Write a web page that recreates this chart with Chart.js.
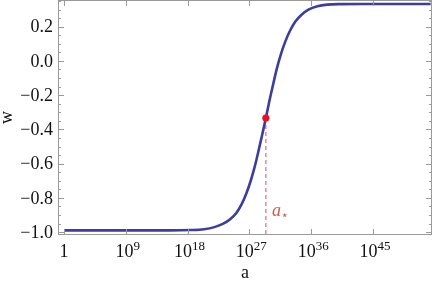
<!DOCTYPE html>
<html>
<head>
<meta charset="utf-8">
<script src="https://cdn.jsdelivr.net/npm/chart.js@4"></script>
<style>
  html, body { margin: 0; padding: 0; background: #fff; }
  #wrap { width: 437px; height: 282px; }
</style>
</head>
<body>
<div id="wrap"><canvas id="wChart" width="437" height="282"></canvas></div>
<script>
// curve: log10(a) and w
const logA = [0, 5, 10, 15.4, 18.4, 20.4, 21.9, 23.2, 24.2, 25.1, 25.9, 26.6, 27.2, 27.8, 28.4, 28.9,
  29.4, 29.9, 30.4, 31.0, 31.6, 32.2, 32.9, 33.7, 34.6, 35.6, 36.9, 38.4, 40.4, 43.4, 48, 53.4];
const wVals = [-0.99, -0.99, -0.99, -0.99, -0.988, -0.983, -0.971, -0.951, -0.925, -0.888, -0.835, -0.77, -0.70, -0.615, -0.514, -0.425,
  -0.334, -0.237, -0.148, -0.045, 0.04, 0.11, 0.175, 0.23, 0.27, 0.30, 0.32, 0.329, 0.332, 0.333, 0.333, 0.333];

// the marked point a*
const starLogA = 29.4;
const starW = -0.334;

// axes
const xTickExps = [0, 9, 18, 27, 36, 45];
const yTicks = [-1.0, -0.8, -0.6, -0.4, -0.2, 0.0, 0.2];
const xMinExp = -0.87, xMaxExp = 53.6;
const yMin = -1.017, yMax = 0.356;

const SERIF = '"Liberation Serif", "Times New Roman", serif';
const frameColor = "#9a9a9a";

function yLabel(v) {
  const s = Math.abs(v).toFixed(1);
  return v < -1e-9 ? "\u2212" + s : s;
}

// frame, inward ticks, tick labels and axis titles (Mathematica-like)
const framePlugin = {
  id: "frame",
  afterDraw(chart) {
    const { ctx, chartArea: ca } = chart;
    const xs = chart.scales.x, ys = chart.scales.y;
    ctx.save();
    ctx.strokeStyle = frameColor;
    ctx.lineWidth = 1;
    ctx.strokeRect(Math.round(ca.left) + 0.5, Math.round(ca.top) + 0.5,
      Math.round(ca.right - ca.left) - 1, Math.round(ca.bottom - ca.top) - 1);

    // y ticks: major every 0.2, minor every 0.05
    for (let k = -20; k <= 7; k++) {
      const v = k * 0.05;
      if (v < yMin || v > yMax) continue;
      const py = Math.round(ys.getPixelForValue(v)) + 0.5;
      const major = k % 4 === 0;
      const len = major ? 6 : 3;
      ctx.beginPath();
      ctx.moveTo(ca.left, py); ctx.lineTo(ca.left + len, py);
      ctx.moveTo(ca.right, py); ctx.lineTo(ca.right - len, py);
      ctx.stroke();
    }
    // x ticks
    xTickExps.forEach((e) => {
      const px = Math.round(xs.getPixelForValue(Math.pow(10, e))) + 0.5;
      ctx.beginPath();
      ctx.moveTo(px, ca.bottom); ctx.lineTo(px, ca.bottom - 6);
      ctx.moveTo(px, ca.top); ctx.lineTo(px, ca.top + 6);
      ctx.stroke();
    });

    // y labels
    ctx.fillStyle = "#111";
    ctx.font = "18px " + SERIF;
    ctx.textAlign = "right";
    ctx.textBaseline = "middle";
    yTicks.forEach((v) => {
      ctx.fillText(yLabel(v), ca.left - 5, ys.getPixelForValue(v) + 1);
    });

    // x labels with superscripts
    ctx.textBaseline = "alphabetic";
    const base = ca.bottom + 22;
    xTickExps.forEach((e) => {
      const px = xs.getPixelForValue(Math.pow(10, e));
      if (e === 0) {
        ctx.font = "18px " + SERIF;
        ctx.textAlign = "center";
        ctx.fillText("1", px, base);
        return;
      }
      ctx.font = "18px " + SERIF;
      const w10 = ctx.measureText("10").width;
      ctx.font = "13px " + SERIF;
      const wExp = ctx.measureText(String(e)).width;
      const left = px - (w10 + wExp) / 2 + 2;
      ctx.textAlign = "left";
      ctx.font = "18px " + SERIF;
      ctx.fillText("10", left, base);
      ctx.font = "13px " + SERIF;
      ctx.fillText(String(e), left + w10, base - 7);
    });

    // axis titles
    ctx.font = "18px " + SERIF;
    ctx.textAlign = "center";
    ctx.fillText("a", (ca.left + ca.right) / 2, ca.bottom + 43);
    ctx.save();
    ctx.translate(7, (ca.top + ca.bottom) / 2);
    ctx.rotate(-Math.PI / 2);
    ctx.textBaseline = "middle";
    ctx.fillText("w", 0, 0);
    ctx.restore();

    // a* label
    const lx = xs.getPixelForValue(Math.pow(10, 30.3));
    const ly = ys.getPixelForValue(-0.888);
    ctx.fillStyle = "#d0584f";
    ctx.textAlign = "left";
    ctx.textBaseline = "middle";
    ctx.font = "italic 18px " + SERIF;
    ctx.fillText("a", lx, ly - 2);
    const wa = ctx.measureText("a").width;
    ctx.font = "12px DejaVu Sans";
    ctx.fillText("\u22C6", lx + wa, ly + 3);
    ctx.restore();
  },
};

const curve = logA.map((e, i) => ({ x: Math.pow(10, e), y: wVals[i] }));
const starPt = { x: Math.pow(10, starLogA), y: starW };

new Chart(document.getElementById("wChart"), {
  type: "scatter",
  plugins: [framePlugin],
  data: {
    datasets: [
      {
        data: [starPt],
        pointRadius: 3.6,
        pointBackgroundColor: "#f0101e",
        pointBorderWidth: 0,
      },
      {
        data: curve,
        showLine: true,
        borderColor: "#3d3d9c",
        borderWidth: 2.6,
        cubicInterpolationMode: "monotone",
        pointRadius: 0,
      },
      {
        data: [starPt, { x: starPt.x, y: yMin }],
        showLine: true,
        borderColor: "#f0707f",
        borderWidth: 1.3,
        borderDash: [4, 3],
        pointRadius: 0,
      },
    ],
  },
  options: {
    responsive: false,
    animation: false,
    events: [],
    layout: { autoPadding: false, padding: { left: 58, right: 5, top: 0, bottom: 47 } },
    plugins: { legend: { display: false }, tooltip: { enabled: false } },
    scales: {
      x: { type: "logarithmic", min: Math.pow(10, xMinExp), max: Math.pow(10, xMaxExp), display: false },
      y: { type: "linear", min: yMin, max: yMax, display: false },
    },
  },
});
</script>
</body>
</html>
